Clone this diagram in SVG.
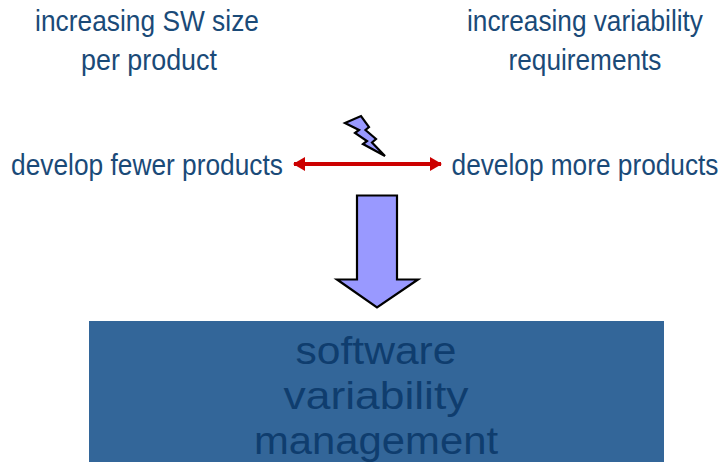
<svg xmlns="http://www.w3.org/2000/svg" width="722" height="462" viewBox="0 0 722 462">
<style>
text{font-family:"Liberation Sans",Arial,sans-serif;text-anchor:middle}
.t{font-size:30px;fill:#1a4a78}
.b{font-size:38px;fill:#0f3d6e}
.s{fill:#9999ff;stroke:#000;stroke-width:2.2;stroke-linejoin:miter}
</style>
<defs>
<marker id="ah" markerUnits="userSpaceOnUse" markerWidth="12" markerHeight="14" refX="11" refY="7" orient="auto-start-reverse"><path d="M0 0L12 7L0 14Z" fill="#cc0000"/></marker>
</defs>
<rect width="722" height="462" fill="#fff"/>
<g id="label-sw"><text class="t" transform="translate(147 31) scale(.878 1)">increasing SW size</text><text class="t" transform="translate(149 70) scale(.896 1)">per product</text></g>
<g id="label-var"><text class="t" transform="translate(585 31) scale(.874 1)">increasing variability</text><text class="t" transform="translate(585 70) scale(.874 1)">requirements</text></g>
<g id="label-fewer"><text class="t" transform="translate(147 175) scale(.877 1)">develop fewer products</text></g>
<g id="label-more"><text class="t" transform="translate(585 175) scale(.875 1)">develop more products</text></g>
<g id="connectors"><line x1="294" y1="164" x2="441" y2="164" stroke="#cc0000" stroke-width="4" marker-start="url(#ah)" marker-end="url(#ah)"/></g>
<g id="bolt"><path class="s" d="M345 123L361 116L369 127L365.500 130L376 139L372 142.500L385 156L363 144L367 141L355 133L359 130Z"/></g>
<g id="big-arrow"><path class="s" d="M357 195.500H397V279.500H418L377 307.500L337 279.500H357Z"/></g>
<g id="box"><rect x="89" y="321" width="575" height="141" fill="#336699"/>
<text class="b" x="376" y="364" textLength="161" lengthAdjust="spacingAndGlyphs">software</text>
<text class="b" x="376" y="408.500" textLength="185" lengthAdjust="spacingAndGlyphs">variability</text>
<text class="b" x="376" y="454" textLength="244" lengthAdjust="spacingAndGlyphs">management</text></g>
</svg>
